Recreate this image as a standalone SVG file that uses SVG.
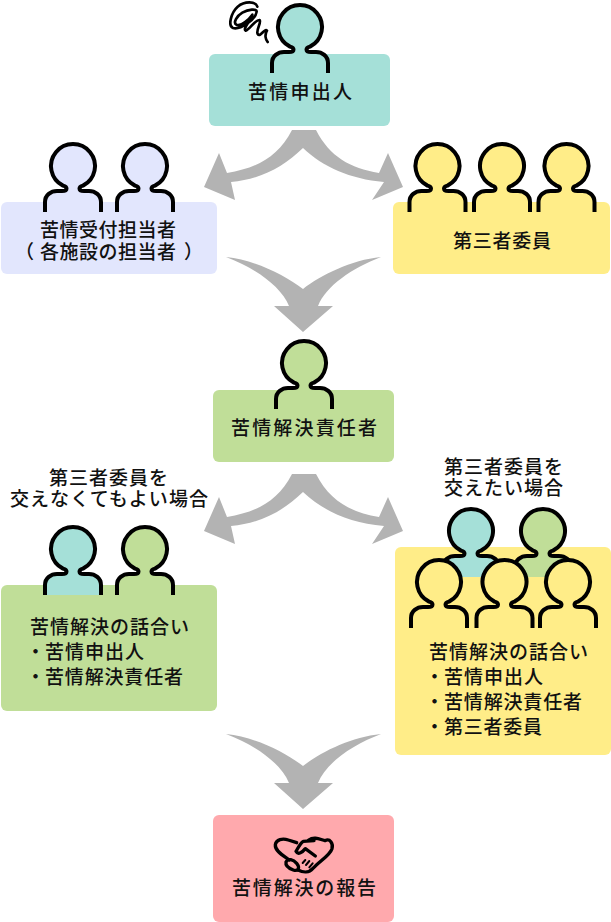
<svg xmlns="http://www.w3.org/2000/svg" width="611" height="922" viewBox="0 0 611 922">
<style>
text{font-family:"Noto Sans CJK JP","Noto Sans",sans-serif;font-size:19px;fill:#111;font-weight:500}
.person{stroke:#000;stroke-width:4}
.box{rx:6px}
.teal{fill:#a5e0d8}.lav{fill:#e2e6fd}.yel{fill:#ffed88}.grn{fill:#c0de98}.pink{fill:#ffa9ad}
.arrow{fill:#b3b3b3}
.ink{fill:none;stroke:#000;stroke-linecap:round;stroke-linejoin:round}
</style>
<defs>
<path id="person" class="person" d="M-28 46V36C-28 29-22 25-16 25H-11Q-6.500 25-6.500 22.500Q-6.500 20.500-10 19.600A22 22 0 1 1 10 19.600Q6.500 20.500 6.500 22.500Q6.500 25 11 25H16C22 25 28 29 28 36V46"/>
<path id="split" class="arrow" d="M292 130H316C330 157 350 168 379 173L388 153L403 187L372 200L384 182C350 179 323 167 303 148C283 167 262 179 231 182L235 200L204 187L219 153L227 173C257 168 278 157 292 130Z"/>
<path id="merge" class="arrow" d="M226 734C255 737 285 752 303 766C321 752 351 737 381 734C352 745 326 763 318 783H333L303 809L274 783H289C281 763 255 745 226 734Z"/>
</defs>

<g id="connectors">
<use href="#split"/>
<use href="#merge" y="-477"/>
<use href="#split" y="344"/>
<use href="#merge"/>
</g>

<g id="complainant">
<rect class="box teal" x="209" y="54" width="181" height="72"/>
<use href="#person" x="300" y="27" class="teal"/>
<g transform="translate(225 0) scale(.3333)" class="ink" stroke-width="8">
<path d="M97 20C92 3 58 3 38 20C18 38 8 78 24 84C45 90 92 60 95 35C96 25 70 28 52 38C35 48 24 68 34 74C50 80 72 58 82 44C78 62 52 86 62 92C74 90 90 58 104 60C110 68 92 90 98 102C106 114 118 84 126 92C118 105 122 120 128 126"/>
</g>
<text x="248" y="99" textLength="104">苦情申出人</text>
</g>

<g id="receptionists">
<rect class="box lav" x="1" y="202" width="216" height="72"/>
<use href="#person" x="73" y="166" class="lav"/>
<use href="#person" x="145" y="166" class="lav"/>
<text x="40" y="237" textLength="136">苦情受付担当者</text>
<text x="15" y="259">（</text>
<text x="40" y="259" textLength="136">各施設の担当者</text>
<text x="184" y="259">）</text>
</g>

<g id="third-party">
<rect class="box yel" x="393" y="202" width="217" height="72"/>
<use href="#person" x="437.500" y="166" class="yel"/>
<use href="#person" x="502" y="166" class="yel"/>
<use href="#person" x="566.500" y="166" class="yel"/>
<text x="453" y="248" textLength="98">第三者委員</text>
</g>

<g id="resolver">
<rect class="box grn" x="213" y="390" width="181" height="72"/>
<use href="#person" x="304" y="363" class="grn"/>
<text x="231" y="435" textLength="146">苦情解決責任者</text>
</g>

<g id="without-third-party">
<text x="49" y="485" textLength="119">第三者委員を</text>
<text x="10" y="506" textLength="198">交えなくてもよい場合</text>
<rect class="box grn" x="1" y="585" width="216" height="126"/>
<use href="#person" x="73" y="549" class="teal"/>
<use href="#person" x="145" y="549" class="grn"/>
<text x="30" y="634" textLength="159">苦情解決の話合い</text>
<text x="26" y="659">・</text>
<text x="45" y="659" textLength="99">苦情申出人</text>
<text x="26" y="684">・</text>
<text x="45" y="684" textLength="138">苦情解決責任者</text>
</g>

<g id="with-third-party">
<text x="444" y="474" textLength="119">第三者委員を</text>
<text x="444" y="495" textLength="119">交えたい場合</text>
<rect class="box yel" x="395" y="547" width="216" height="208"/>
<use href="#person" x="471" y="531" class="teal"/>
<use href="#person" x="543" y="531" class="grn"/>
<use href="#person" x="439" y="582" class="yel"/>
<use href="#person" x="504.500" y="582" class="yel"/>
<use href="#person" x="568" y="582" class="yel"/>
<text x="429" y="659" textLength="159">苦情解決の話合い</text>
<text x="425" y="684">・</text>
<text x="444" y="684" textLength="99">苦情申出人</text>
<text x="425" y="709">・</text>
<text x="444" y="709" textLength="138">苦情解決責任者</text>
<text x="425" y="734">・</text>
<text x="444" y="734" textLength="98">第三者委員</text>
</g>

<g id="report">
<rect class="box pink" x="213" y="815" width="181" height="107"/>
<g transform="translate(270 830) scale(.3333)" class="ink" stroke-width="10">
<path d="M58 90C42 78 14 64 16 44C18 28 38 24 55 30L80 38"/>
<path d="M116 30C133 18 150 28 165 32C180 24 190 40 186 56C180 76 150 92 128 116C118 128 100 128 84 120"/>
<path d="M132 32L100 34C90 40 84 55 78 64C84 76 98 66 106 56L136 78"/>
<path d="M48 96C54 84 70 88 80 100C92 116 82 124 70 120C54 114 46 106 48 96Z"/>
<path d="M98 99L106 90M108 105L118 93M118 112L128 100" stroke-width="6"/>
</g>
<text x="232" y="895" textLength="144">苦情解決の報告</text>
</g>
</svg>
